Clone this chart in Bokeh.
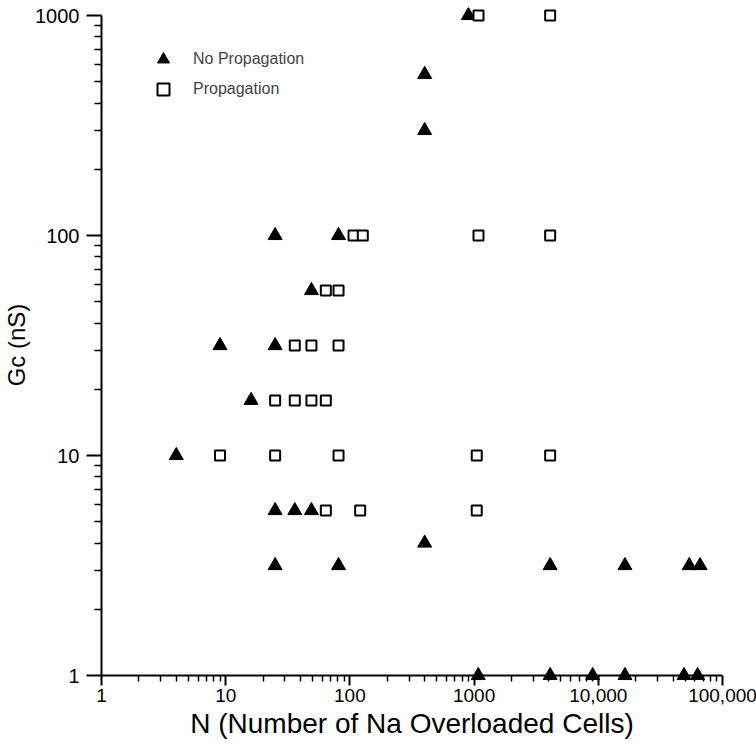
from bokeh.plotting import figure
from bokeh.models import FixedTicker, CustomJSTickFormatter, Legend, LegendItem, Span
from bokeh.embed import file_html
from bokeh.resources import INLINE

# ---- data ----
# No Propagation (filled triangles)
nop_n = [900, 400, 400, 25, 81, 49, 9, 25, 16, 4, 25, 36, 49, 400,
         25, 81, 4096, 16384, 54000, 66000,
         1080, 4096, 9000, 16384, 49000, 63000]
nop_gc = [1000, 540, 300, 100, 100, 56.2, 31.6, 31.6, 17.8, 10, 5.62, 5.62, 5.62, 4,
          3.16, 3.16, 3.16, 3.16, 3.16, 3.16,
          1, 1, 1, 1, 1, 1]

# Propagation (open squares)
prop_n = [1085, 4096,
          107, 127, 1085, 4096,
          64, 81,
          36, 49, 81,
          25, 36, 49, 64,
          9, 25, 81, 1050, 4096,
          64, 121, 1050]
prop_gc = [1000, 1000,
           100, 100, 100, 100,
           56.2, 56.2,
           31.6, 31.6, 31.6,
           17.8, 17.8, 17.8, 17.8,
           10, 10, 10, 10, 10,
           5.62, 5.62, 5.62]

x_major = [1, 10, 100, 1000, 10000, 100000]
y_major = [1, 10, 100, 1000]
x_minor = [m * d for d in [1, 10, 100, 1000, 10000] for m in range(2, 10)]
y_minor = [m * d for d in [1, 10, 100] for m in range(2, 10)]

# axes run 1..100000 and 1..1000; the frame is padded a little (in px)
# so markers lying on the axes are not clipped
X_LO, X_HI = 1, 100000
Y_LO, Y_HI = 1, 1000
DECADE_PX = 220
PAD_BOTTOM = 7
PAD_TOP = 8

FONT = "Liberation Sans"

p = figure(
    frame_width=621, frame_height=3 * DECADE_PX + PAD_BOTTOM + PAD_TOP,
    min_border_left=98, min_border_right=37, min_border_top=7, min_border_bottom=70,
    x_axis_type="log", y_axis_type="log",
    x_range=(X_LO, X_HI),
    y_range=(Y_LO * 10 ** (-PAD_BOTTOM / DECADE_PX), Y_HI * 10 ** (PAD_TOP / DECADE_PX)),
    output_backend="svg", toolbar_location=None,
    background_fill_color="white", border_fill_color="white",
)
p.outline_line_color = None
p.grid.visible = False

# x axis line at Gc = 1
p.add_layout(Span(location=Y_LO, dimension="width", line_color="black", line_width=2))

tri = p.scatter(nop_n, nop_gc, marker="triangle", size=14,
                fill_color="black", line_color="black", line_width=1)
sq = p.scatter(prop_n, prop_gc, marker="square", size=10,
               fill_color="white", line_color="black", line_width=2)

# x axis (sits PAD_BOTTOM px below Gc = 1; ticks reach up to the Gc = 1 line)
xa = p.xaxis[0]
xa.ticker = FixedTicker(ticks=x_major, minor_ticks=x_minor)
xa.formatter = CustomJSTickFormatter(code="""
    var s = String(Math.round(tick));
    if (tick >= 10000) { s = s.replace(/\\B(?=(\\d{3})+(?!\\d))/g, ","); }
    return s;
""")
xa.axis_label = "N (Number of Na Overloaded Cells)"
xa.axis_label_text_font = FONT
xa.axis_label_text_font_size = "28px"
xa.axis_label_text_font_style = "normal"
xa.axis_label_text_color = "black"
xa.axis_label_standoff = 3
xa.major_label_text_font = FONT
xa.major_label_text_font_size = "19px"
xa.major_label_text_color = "black"
xa.major_label_standoff = 3
xa.axis_line_alpha = 0
xa.major_tick_in = PAD_BOTTOM
xa.major_tick_out = 3
xa.minor_tick_in = PAD_BOTTOM
xa.minor_tick_out = -1

# y axis
ya = p.yaxis[0]
ya.bounds = (Y_LO, Y_HI)
ya.ticker = FixedTicker(ticks=y_major, minor_ticks=y_minor)
ya.formatter = CustomJSTickFormatter(code="return String(Math.round(tick));")
ya.axis_label = "Gc (nS)"
ya.axis_label_text_font = FONT
ya.axis_label_text_font_size = "24px"
ya.axis_label_text_font_style = "normal"
ya.axis_label_text_color = "black"
ya.axis_label_standoff = 2
ya.major_label_text_font = FONT
ya.major_label_text_font_size = "20px"
ya.major_label_text_color = "black"
ya.major_label_standoff = 7
ya.major_tick_out = 15
ya.major_tick_in = 0
ya.minor_tick_out = 7
ya.minor_tick_in = 0
ya.axis_line_width = 2
ya.axis_line_color = "black"

for ax in (xa, ya):
    ax.major_tick_line_width = 2
    ax.major_tick_line_color = "black"
    ax.minor_tick_line_width = 1.5
    ax.minor_tick_line_color = "black"

legend = Legend(
    items=[LegendItem(label="No Propagation", renderers=[tri]),
           LegendItem(label="Propagation", renderers=[sq])],
    location=(47, 578),
    margin=0, padding=0,
    glyph_width=30, glyph_height=30,
    spacing=-1, label_standoff=15,
    label_text_font=FONT, label_text_font_size="16px",
    label_text_baseline="middle",
    border_line_alpha=0, background_fill_alpha=0,
)
p.add_layout(legend)

open("out.html", "w").write(file_html(p, INLINE))
